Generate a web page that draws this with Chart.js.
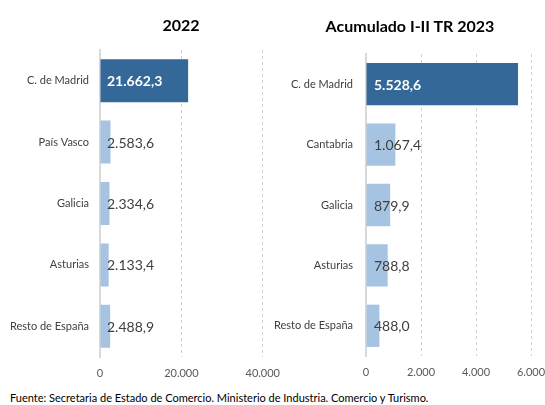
<!DOCTYPE html>
<html><head><meta charset="utf-8">
<script src="https://cdn.jsdelivr.net/npm/chart.js@4/dist/chart.umd.min.js"></script>
<style>
html,body{margin:0;padding:0;background:#fff;}
body{width:545px;height:405px;position:relative;overflow:hidden;font-family:Lato,sans-serif;}
.box{position:absolute;top:0;height:390px;}
#b1{left:0;width:290px;}
#b2{left:270px;width:290px;}
.title{position:absolute;font-weight:bold;font-size:16px;color:#000;transform:translate(-50%,-50%);white-space:nowrap;}
#src{position:absolute;left:10px;top:391px;font-size:11px;color:#000;white-space:nowrap;}
</style></head>
<body>
<div class="box" id="b1"><canvas id="c1"></canvas></div>
<div class="box" id="b2"><canvas id="c2"></canvas></div>
<div class="title" style="left:181px;top:24px">2022</div>
<div class="title" style="left:410px;top:25px">Acumulado I-II TR 2023</div>
<div id="src">Fuente: Secretaria de Estado de Comercio. Ministerio de Industria. Comercio y Turismo.</div>
<script>
const categories2022 = ['C. de Madrid', 'País Vasco', 'Galicia', 'Asturias', 'Resto de España'];
const values2022 = [21662.3, 2583.6, 2334.6, 2133.4, 2488.9];
const categories2023 = ['C. de Madrid', 'Cantabria', 'Galicia', 'Asturias', 'Resto de España'];
const values2023 = [5528.6, 1067.4, 879.9, 788.8, 488.0];
const axis2022 = {min: 0, max: 40000, step: 20000};
const axis2023 = {min: 0, max: 6000, step: 2000};

const DARK = '#346898', LIGHT = '#a6c4e2';

function fmtNum(v, dec) {
  const s = v.toFixed(dec);
  const parts = s.split('.');
  const int = parts[0].replace(/\B(?=(\d{3})+(?!\d))/g, '.');
  return dec ? int + ',' + parts[1] : int;
}

const valueLabels = {
  id: 'valueLabels',
  afterDatasetsDraw(chart, args, opts) {
    const ctx = chart.ctx;
    const meta = chart.getDatasetMeta(0);
    const x0 = chart.scales.x.getPixelForValue(0);
    const data = chart.data.datasets[0].data;
    ctx.save();
    ctx.textAlign = 'left';
    ctx.textBaseline = 'middle';
    meta.data.forEach((bar, i) => {
      const first = i === 0;
      ctx.font = (first ? 'bold ' : '') + '14px Lato';
      ctx.fillStyle = first ? '#ffffff' : '#404040';
      ctx.fillText(fmtNum(data[i], 1), x0 + opts.offset, bar.y + 1);
    });
    ctx.restore();
  }
};

function makeChart(id, cats, vals, ax, yWidth, pad, labelOffset, labelPad) {
  return new Chart(document.getElementById(id), {
    type: 'bar',
    data: {
      labels: cats,
      datasets: [{
        data: vals,
        backgroundColor: vals.map((v, i) => i === 0 ? DARK : LIGHT),
        borderWidth: 0,
        categoryPercentage: 1,
        barPercentage: 0.7
      }]
    },
    options: {
      indexAxis: 'y',
      responsive: true,
      maintainAspectRatio: false,
      animation: false,
      layout: {padding: pad},
      plugins: {
        legend: {display: false},
        tooltip: {enabled: false},
        title: {display: false},
        valueLabels: {offset: labelOffset}
      },
      scales: {
        x: {
          min: ax.min, max: ax.max,
          afterFit(s) { s.height = 28; },
          ticks: {
            stepSize: ax.step,
            padding: 10,
            color: '#595959',
            font: {family: 'Lato', size: 11},
            callback: v => fmtNum(v, 0),
            maxRotation: 0
          },
          grid: {
            drawTicks: false,
            color: c => (c.tick && c.tick.value === 0) ? 'rgba(0,0,0,0)' : '#d0d0d0',
            lineWidth: 1
          },
          border: {display: false, dash: [3, 3]}
        },
        y: {
          afterFit(s) { s.width = yWidth; },
          ticks: {
            padding: labelPad,
            color: '#404040',
            font: {family: 'Lato', size: 11}
          },
          grid: {display: false, drawTicks: false},
          border: {display: true, color: '#d9d9d9', width: 2}
        }
      }
    },
    plugins: [valueLabels]
  });
}

makeChart('c1', categories2022, values2022, axis2022, 100, {top: 50, right: 24, bottom: 5, left: 0}, 7, 11);
makeChart('c2', categories2023, values2023, axis2023, 96, {top: 54, right: 29, bottom: 6, left: 0}, 8, 13);
</script>
</body></html>
